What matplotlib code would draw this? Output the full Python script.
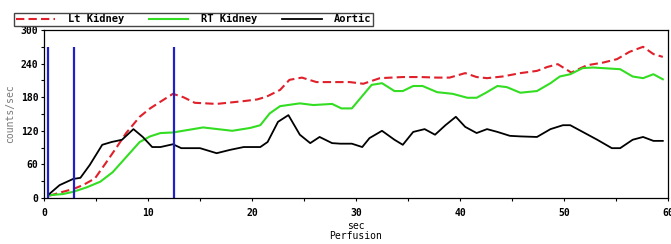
import numpy as np
import matplotlib
matplotlib.use("Agg")
import matplotlib.pyplot as plt
from matplotlib.ticker import MultipleLocator

# ---- data ----
lt_t = [0.5, 1.8, 2.8, 3.75, 4.9, 6.0, 7.0, 7.9, 9.2, 10.2, 11.2, 12.4, 13.4, 14.5,
        16.6, 19.2, 20.5, 21.4, 22.7, 23.6, 24.8, 26.2, 29.4, 30.7, 32.3, 34.5, 36.2,
        37.8, 39.0, 40.5, 41.6, 42.6, 44.1, 45.8, 47.4, 48.4, 49.4, 50.7, 52.2, 53.8,
        55.1, 56.3, 57.6, 58.6, 59.5]
lt_v = [4, 11, 16, 23, 35, 64, 91, 116, 145, 160, 172, 186, 180, 170,
        168, 173, 176, 181, 193, 211, 215, 207, 207, 204, 214, 216, 216,
        215, 215, 223, 216, 214, 217, 223, 227, 234, 239, 224, 237, 242,
        248, 261, 270, 257, 252]

rt_t = [0.5, 1.8, 2.8, 4.1, 5.4, 6.6, 7.9, 9.2, 10.2, 11.2, 12.4, 15.3, 18.1, 19.8,
        20.8, 21.7, 22.7, 24.6, 25.9, 27.7, 28.6, 29.6, 31.5, 32.5, 33.7, 34.5,
        35.5, 36.4, 37.8, 39.3, 40.7, 41.6, 42.4, 43.6, 44.5, 45.8, 47.4, 48.7,
        49.6, 50.6, 51.8, 52.8, 55.4, 56.6, 57.6, 58.6, 59.5]
rt_v = [5, 7, 11, 19, 29, 46, 73, 100, 110, 116, 117, 126, 120, 125,
        130, 151, 164, 169, 166, 168, 160, 160, 202, 205, 191, 191,
        200, 200, 189, 186, 179, 179, 187, 200, 198, 188, 191, 205,
        217, 221, 232, 233, 230, 217, 214, 221, 212]

ao_t = [0.5, 1.5, 2.8, 3.5, 4.4, 5.6, 6.5, 7.5, 8.6, 9.5, 10.4, 11.2, 12.4, 13.2,
        15.0, 16.6, 17.9, 19.2, 20.8, 21.5, 22.5, 23.5, 24.6, 25.6, 26.5, 27.7,
        28.5, 29.6, 30.6, 31.3, 32.5, 33.7, 34.5, 35.5, 36.6, 37.6, 38.6, 39.6,
        40.5, 41.6, 42.6, 43.6, 44.8, 45.8, 47.4, 48.7, 49.9, 50.6, 51.8, 53.2,
        54.6, 55.4, 56.6, 57.6, 58.6, 59.5]
ao_v = [7, 23, 34, 36, 59, 95, 100, 104, 123, 109, 91, 91, 96, 89,
        89, 80, 86, 91, 91, 100, 136, 148, 113, 98, 109, 98,
        97, 97, 91, 107, 120, 104, 95, 118, 123, 113, 130, 145,
        127, 116, 123, 118, 111, 110, 109, 123, 130, 130, 118, 104,
        89, 89, 104, 109, 102, 102]

markers = [0.4, 2.9, 12.5]

# ---- plot ----
mono = ["DejaVu Sans Mono"]
plt.rcParams["font.family"] = mono
plt.rcParams["font.size"] = 7
plt.rcParams["font.weight"] = "bold"

fig = plt.figure(figsize=(6.71, 2.44), dpi=100)
ax = fig.add_axes([44 / 671, 1 - 198 / 244, 624 / 671, 168 / 244])

ax.plot(lt_t, lt_v, color="#e0202a", lw=1.5, linestyle=(0, (4, 2)), label="Lt Kidney")
ax.plot(rt_t, rt_v, color="#33dd22", lw=1.5, label="RT Kidney")
ax.plot(ao_t, ao_v, color="black", lw=1.3, label="Aortic")
ax.vlines(markers, 0, 270, color="#2020c8", lw=1.6)

ax.set_xlim(0, 60)
ax.set_ylim(0, 300)
ax.xaxis.set_major_locator(MultipleLocator(10))
ax.xaxis.set_minor_locator(MultipleLocator(5))
ax.yaxis.set_major_locator(MultipleLocator(60))
ax.yaxis.set_minor_locator(MultipleLocator(30))
ax.tick_params(which="both", direction="out", length=2.5, width=0.8, pad=1.5)
ax.tick_params(axis="x", which="both", pad=5)
for s in ax.spines.values():
    s.set_linewidth(0.9)

ax.set_ylabel("counts/sec", color="#777777", fontweight="normal", fontsize=7, labelpad=4)
ax.set_xlabel("sec\nPerfusion", fontsize=7, linespacing=0.95, labelpad=2)

fig.legend(loc="lower left", bbox_to_anchor=(14 / 671, 1 - 26 / 244), ncol=3,
           frameon=True, fancybox=False, edgecolor="#444444", framealpha=1,
           handlelength=3.8, handletextpad=1.2, columnspacing=2.4,
           borderpad=0.15, borderaxespad=0, fontsize=7.5,
           prop={"family": mono, "weight": "bold", "size": 7.5})

fig.savefig("out.png", dpi=100)
